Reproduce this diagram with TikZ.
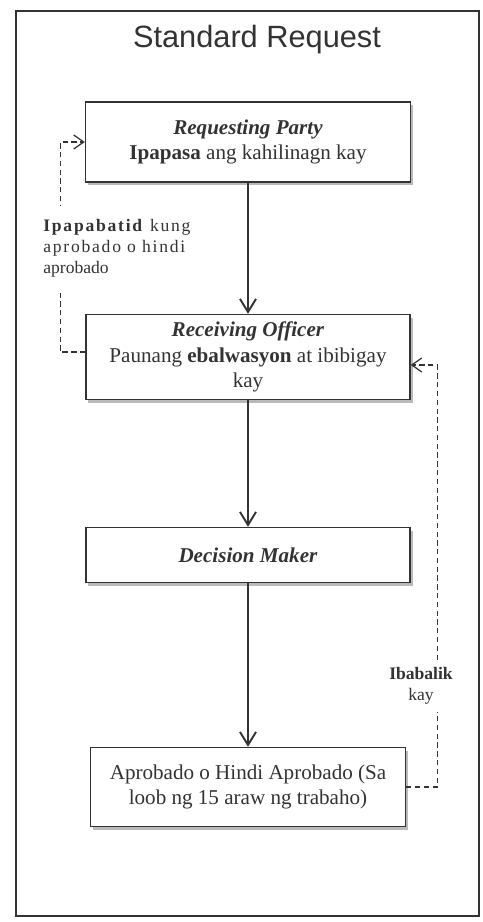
\documentclass[tikz,border=0pt]{standalone}
\usepackage{fontspec}
\setmainfont{Liberation Serif}
\newfontfamily\titlefont{Liberation Sans}
\usetikzlibrary{arrows.meta,shadows}
\definecolor{ink}{HTML}{333333}
\newcommand{\spaced}[1]{{\addfontfeature{LetterSpace=10}#1}}

\begin{document}
\begin{tikzpicture}[x=0.2mm, y=-0.2mm,
    box/.style={draw=ink, line width=0.8pt, fill=white, text=ink, align=center,
        font=\fontsize{12}{14.5}\selectfont,
        drop shadow={shadow xshift=0.5mm, shadow yshift=-0.6mm, fill=black!45, opacity=0.6}},
    flow/.style={-{Straight Barb[length=2.6mm, width=3.2mm]}, draw=ink, line width=1.1pt},
    back/.style={-{Straight Barb[length=2mm, width=2.8mm]}, draw=ink, line width=0.7pt,
        dash pattern=on 3pt off 2pt},
    note/.style={fill=white, text=ink, font=\fontsize{10}{12}\selectfont}]
    \useasboundingbox (0,0) rectangle (482,922);
    \draw [ink, line width=1pt] (16,11) rectangle (479,916);

    \node [text=ink, font=\titlefont\fontsize{17.5}{20}\selectfont] (title) at (257,40) {Standard Request};

    \node [box, minimum width=65mm, minimum height=16mm] (requesting) at (248,142)
        {\textbf{\textit{Requesting Party}}\\\textbf{Ipapasa} ang kahilinagn kay};

    \node [box, minimum width=64.8mm, minimum height=17mm] (receiving) at (248,357)
        {\textbf{\textit{Receiving Officer}}\\Paunang \textbf{ebalwasyon} at ibibigay\\kay};
    \draw [flow] (requesting.south) -- (receiving.north);

    \node [box, minimum width=64.8mm, minimum height=11mm] (decision) at (248,555)
        {\textbf{\textit{Decision Maker}}};
    \draw [flow] (receiving.south) -- (decision.north);

    \node [box, minimum width=63mm, minimum height=15.8mm] (approved) at (248,787)
        {Aprobado o Hindi Aprobado (Sa\\loob ng 15 araw ng trabaho)};
    \draw [flow] (decision.south) -- (approved.north);

    \draw [back] ([yshift=1mm]receiving.west) -- ++(-25,0) |- (requesting.west);
    \node [note, anchor=west, align=left, inner xsep=0pt, inner ysep=2.5mm] (notify) at (43,248)
        {\spaced{\textbf{Ipapabatid} kung}\\\spaced{aprobado o hindi}\\aprobado};

    \draw [back] (approved.east) -- ++(31,0) |- ([yshift=-1.6mm]receiving.east);
    \node [note, align=center, inner sep=1.5mm] (returnto) at (421,686)
        {\textbf{Ibabalik}\\kay};
\end{tikzpicture}
\end{document}
